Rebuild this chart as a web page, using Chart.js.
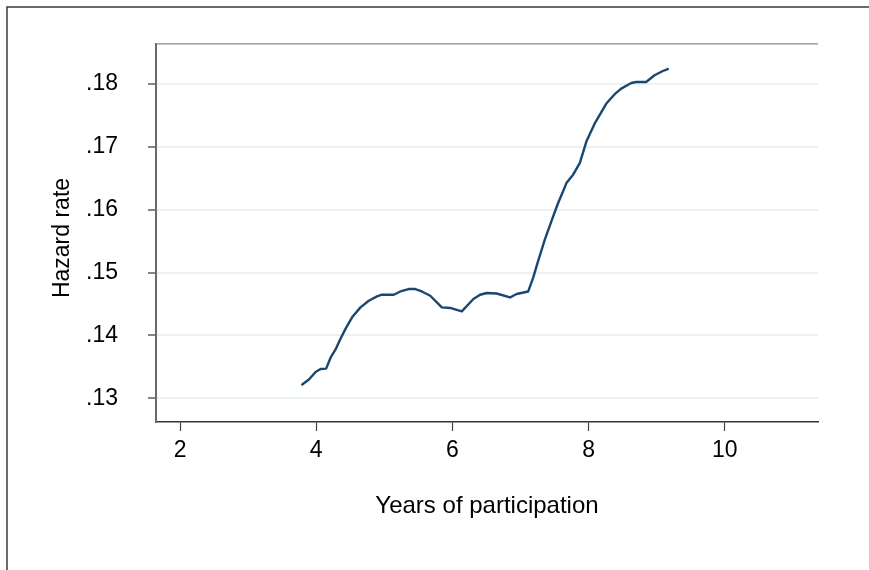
<!DOCTYPE html>
<html>
<head>
<meta charset="utf-8">
<script src="https://cdn.jsdelivr.net/npm/chart.js@4/dist/chart.umd.min.js"></script>
<style>
  html, body { margin: 0; padding: 0; background: #ffffff; }
  #wrap { width: 869px; height: 570px; position: relative; }
</style>
</head>
<body>
<div id="wrap"><canvas id="c" width="869" height="570"></canvas></div>
<script>
// Years of participation (x) and smoothed hazard rate (y)
const years = [3.795, 3.893, 3.991, 4.064, 4.146, 4.211, 4.284, 4.357, 4.430, 4.527,
  4.650, 4.772, 4.893, 4.966, 5.138, 5.236, 5.357, 5.455, 5.552, 5.675,
  5.845, 5.968, 6.138, 6.309, 6.407, 6.504, 6.650, 6.846, 6.943, 7.114,
  7.187, 7.260, 7.359, 7.455, 7.553, 7.626, 7.675, 7.773, 7.871, 7.968,
  8.091, 8.261, 8.384, 8.480, 8.627, 8.700, 8.846, 8.969, 9.091, 9.164];
const hazard = [0.13221, 0.13300, 0.13420, 0.13467, 0.13474, 0.13647, 0.13778, 0.13947, 0.14105, 0.14288,
  0.14446, 0.14552, 0.14620, 0.14647, 0.14647, 0.14699, 0.14737, 0.14737, 0.14699, 0.14631,
  0.14446, 0.14437, 0.14383, 0.14579, 0.14647, 0.14674, 0.14667, 0.14604, 0.14658, 0.14699,
  0.14920, 0.15184, 0.15526, 0.15815, 0.16104, 0.16289, 0.16420, 0.16553, 0.16736, 0.17079,
  0.17368, 0.17683, 0.17832, 0.17920, 0.18010, 0.18026, 0.18026, 0.18132, 0.18200, 0.18231];
const xTicks = [2, 4, 6, 8, 10];
const yTicks = [0.13, 0.14, 0.15, 0.16, 0.17, 0.18];
const xTitle = 'Years of participation';
const yTitle = 'Hazard rate';

const FONT = '"Liberation Sans", Arial, sans-serif';

const framePlugin = {
  id: 'frame',
  afterDraw(chart) {
    const ctx = chart.ctx;
    const a = chart.chartArea;
    ctx.save();
    // outer frame
    ctx.strokeStyle = '#3a3a3a';
    ctx.lineWidth = 1.5;
    ctx.beginPath();
    ctx.moveTo(7, 570);
    ctx.lineTo(7, 7);
    ctx.lineTo(869, 7);
    ctx.stroke();
    // top plot border
    ctx.strokeStyle = '#8a8a8a';
    ctx.lineWidth = 1.2;
    ctx.beginPath();
    ctx.moveTo(a.left, a.top);
    ctx.lineTo(a.right, a.top);
    ctx.stroke();
    // axis titles
    ctx.fillStyle = '#000000';
    ctx.textAlign = 'center';
    ctx.textBaseline = 'middle';
    ctx.font = '24px ' + FONT;
    ctx.fillText(xTitle, 487, 506);
    ctx.font = '23px ' + FONT;
    ctx.translate(63, 238);
    ctx.rotate(-Math.PI / 2);
    ctx.fillText(yTitle, 0, 0);
    ctx.restore();
  }
};

new Chart(document.getElementById('c'), {
  type: 'line',
  data: {
    datasets: [{
      data: years.map((x, i) => ({ x: x, y: hazard[i] })),
      borderColor: '#1a476f',
      borderWidth: 2.4,
      pointRadius: 0,
      tension: 0,
      fill: false,
      borderJoinStyle: 'round',
      borderCapStyle: 'round'
    }]
  },
  options: {
    responsive: false,
    animation: false,
    devicePixelRatio: 1,
    layout: { padding: { left: 0, top: 42, right: 51, bottom: 100 } },
    plugins: { legend: { display: false }, tooltip: { enabled: false } },
    scales: {
      x: {
        type: 'linear',
        position: 'bottom',
        min: 1.647,
        max: 11.37,
        afterBuildTicks: s => { s.ticks = xTicks.map(v => ({ value: v })); },
        afterFit: s => { s.height = 48; },
        grid: { drawOnChartArea: false, drawTicks: true, tickLength: 9, tickColor: '#444', tickWidth: 1.2 },
        border: { display: true, color: '#333', width: 1.5 },
        ticks: {
          padding: 6,
          autoSkip: false,
          color: '#000',
          font: { family: FONT, size: 23 },
          maxRotation: 0,
          callback: v => String(v)
        }
      },
      y: {
        type: 'linear',
        position: 'left',
        min: 0.12626,
        max: 0.18632,
        afterBuildTicks: s => { s.ticks = yTicks.map(v => ({ value: v })); },
        afterFit: s => { s.width = 156; },
        grid: { drawOnChartArea: true, color: '#e9f1f3', lineWidth: 2, drawTicks: true, tickLength: 8, tickColor: '#333', tickWidth: 1.2 },
        border: { display: true, color: '#6a6a6a', width: 2 },
        ticks: {
          padding: 30,
          autoSkip: false,
          color: '#000',
          font: { family: FONT, size: 23 },
          callback: v => '.' + Math.round(v * 100)
        }
      }
    }
  },
  plugins: [framePlugin]
});
</script>
</body>
</html>
